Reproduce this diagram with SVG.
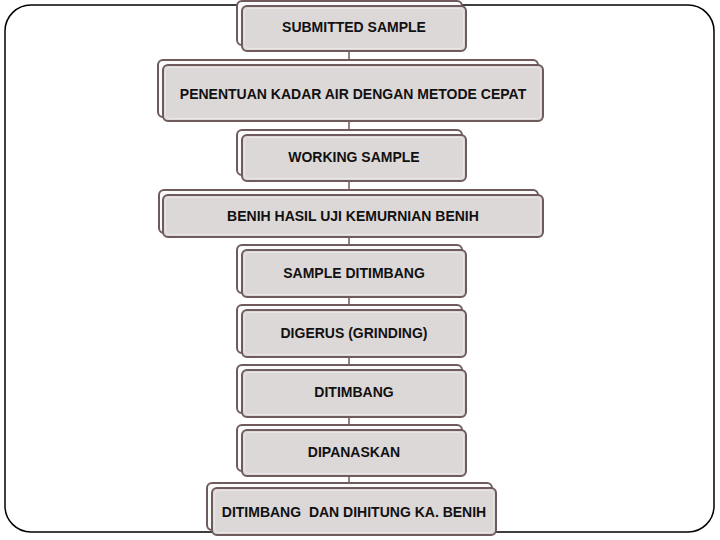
<svg xmlns="http://www.w3.org/2000/svg" width="720" height="540" viewBox="0 0 720 540">
<style>
.frame{fill:#fff;stroke:#000;stroke-width:1.5}
.back{fill:#fafafa;stroke:#6f5b5b;stroke-width:2}
.front{fill:#ddd8d8;stroke:#6f5b5b;stroke-width:2}
.inner{fill:none;stroke:#ebe7e7;stroke-width:1}
.conn{stroke:#6f5b5b;stroke-width:1.5;fill:none}
text{font-family:"Liberation Sans",Arial,sans-serif;font-size:14px;font-weight:bold;fill:#111;text-anchor:middle;white-space:pre}
</style>
<rect class="frame" x="5" y="5" width="709" height="527" rx="26" ry="26"/>
<g id="connectors">
<line class="conn" x1="349" y1="51" x2="349" y2="61"/>
<line class="conn" x1="349" y1="121" x2="349" y2="131"/>
<line class="conn" x1="349" y1="181" x2="349" y2="191"/>
<line class="conn" x1="349" y1="237" x2="349" y2="246"/>
<line class="conn" x1="349" y1="297" x2="349" y2="306"/>
<line class="conn" x1="349" y1="357" x2="349" y2="366"/>
<line class="conn" x1="349" y1="417" x2="349" y2="426"/>
<line class="conn" x1="349" y1="476" x2="349" y2="484"/>
</g>
<g id="n1">
<rect class="back" x="237" y="1" width="225" height="44" rx="5"/>
<rect class="front" x="242" y="6" width="224" height="45" rx="5"/>
<rect class="inner" x="244.5" y="8.5" width="219" height="40" rx="4"/>
<text x="354" y="32">SUBMITTED SAMPLE</text>
</g>
<g id="n2">
<rect class="back" x="158" y="60" width="380" height="57" rx="5"/>
<rect class="front" x="163" y="65" width="380" height="56" rx="5"/>
<rect class="inner" x="165.5" y="67.5" width="375" height="51" rx="4"/>
<text x="353" y="99">PENENTUAN KADAR AIR DENGAN METODE CEPAT</text>
</g>
<g id="n3">
<rect class="back" x="237" y="130" width="225" height="45" rx="5"/>
<rect class="front" x="242" y="135" width="224" height="46" rx="5"/>
<rect class="inner" x="244.5" y="137.5" width="219" height="41" rx="4"/>
<text x="354" y="162">WORKING SAMPLE</text>
</g>
<g id="n4">
<rect class="back" x="159" y="190" width="379" height="43" rx="5"/>
<rect class="front" x="163" y="195" width="380" height="42" rx="5"/>
<rect class="inner" x="165.5" y="197.5" width="375" height="37" rx="4"/>
<text x="353" y="221">BENIH HASIL UJI KEMURNIAN BENIH</text>
</g>
<g id="n5">
<rect class="back" x="237" y="245" width="225" height="48" rx="5"/>
<rect class="front" x="242" y="250" width="224" height="47" rx="5"/>
<rect class="inner" x="244.5" y="252.5" width="219" height="42" rx="4"/>
<text x="354" y="278">SAMPLE DITIMBANG</text>
</g>
<g id="n6">
<rect class="back" x="237" y="305" width="225" height="48" rx="5"/>
<rect class="front" x="242" y="310" width="224" height="47" rx="5"/>
<rect class="inner" x="244.5" y="312.5" width="219" height="42" rx="4"/>
<text x="354" y="338">DIGERUS (GRINDING)</text>
</g>
<g id="n7">
<rect class="back" x="237" y="365" width="225" height="48" rx="5"/>
<rect class="front" x="242" y="370" width="224" height="47" rx="5"/>
<rect class="inner" x="244.5" y="372.5" width="219" height="42" rx="4"/>
<text x="354" y="397">DITIMBANG</text>
</g>
<g id="n8">
<rect class="back" x="237" y="425" width="225" height="46" rx="5"/>
<rect class="front" x="242" y="430" width="224" height="46" rx="5"/>
<rect class="inner" x="244.5" y="432.5" width="219" height="41" rx="4"/>
<text x="354" y="457">DIPANASKAN</text>
</g>
<g id="n9">
<rect class="back" x="207" y="483" width="285" height="47" rx="5"/>
<rect class="front" x="212" y="488" width="284" height="47" rx="5"/>
<rect class="inner" x="214.5" y="490.5" width="279" height="42" rx="4"/>
<text x="354" y="517" xml:space="preserve">DITIMBANG  DAN DIHITUNG KA. BENIH</text>
</g>
</svg>
